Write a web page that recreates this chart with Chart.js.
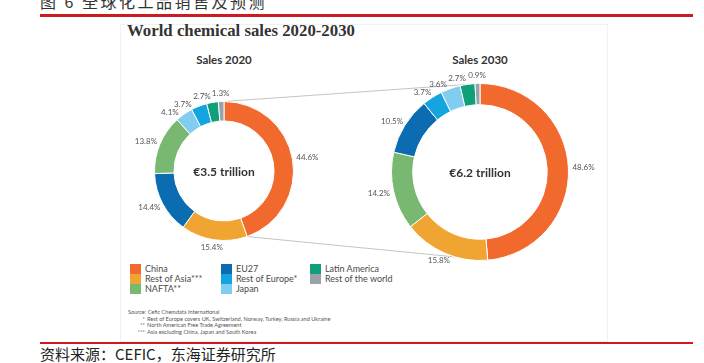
<!DOCTYPE html>
<html>
<head>
<meta charset="utf-8">
<script src="https://cdn.jsdelivr.net/npm/chart.js@4.4.0/dist/chart.umd.min.js"></script>
<style>
  body { margin: 0; width: 704px; height: 363px; overflow: hidden; background: #fff; position: relative; font-family: Lato, sans-serif; }
  .abs { position: absolute; }
  #header { left: 40px; top: -11px; font: 16px "Noto Sans CJK SC"; color: #333; letter-spacing: 2.5px; white-space: nowrap; }
  .redline { left: 40px; width: 653px; background: #cc1a21; }
  #card { left: 120px; top: 24px; width: 488px; height: 318px; border: 1px solid #f1f1f1; box-sizing: border-box; background: #fff; }
  #title { left: 127px; top: 21px; font: bold 16.8px "Liberation Serif"; color: #333; white-space: nowrap; }
  .sales { width: 120px; text-align: center; font: bold 11.5px Lato; color: #333; top: 53px; line-height: 14px; }
  #overlay { left: 0; top: 0; z-index: 1; }
  .donut { z-index: 2; }
  #legend { left: 130px; top: 264px; display: flex; font: 9px Lato; color: #4a4a4a; }
  .lcol { display: flex; flex-direction: column; }
  .litem { display: flex; align-items: center; height: 10px; line-height: 10px; white-space: nowrap; }
  .lsw { width: 11px; height: 10px; margin-right: 4px; }
  #sources { left: 128px; top: 309px; font: 5.6px Lato; color: #555; line-height: 6.5px; white-space: nowrap; }
  .star { display: inline-block; width: 17px; text-align: right; margin-right: 2px; }
  #footer { left: 40px; top: 345px; font: 15px "Noto Sans CJK SC"; color: #222; white-space: nowrap; line-height: 18px; }
</style>
</head>
<body>
<div id="header" class="abs">图 6 全球化工品销售及预测</div>
<div class="abs redline" style="top:14px;height:3px;"></div>
<div id="card" class="abs"></div>
<div id="title" class="abs">World chemical sales 2020-2030</div>
<div class="abs sales" style="left:164px;">Sales 2020</div>
<div class="abs sales" style="left:420px;">Sales 2030</div>
<canvas id="overlay" class="abs" width="704" height="363"></canvas>
<div class="abs donut" style="left:104px;top:71px;width:240px;height:200px;"><canvas id="chart2020"></canvas></div>
<div class="abs donut" style="left:349px;top:62px;width:262px;height:220px;"><canvas id="chart2030"></canvas></div>
<div id="legend" class="abs"></div>
<div id="sources" class="abs"></div>
<div class="abs redline" style="top:342px;height:2px;"></div>
<div id="footer" class="abs">资料来源：CEFIC，东海证券研究所</div>

<script>
// shares of world chemical sales, % (each ring is sorted largest first)
const regions2020 = ['China', 'Rest of Asia', 'EU27', 'NAFTA', 'Japan', 'Rest of Europe', 'Latin America', 'Rest of the world'];
const share2020 = [44.6, 15.4, 14.4, 13.8, 4.1, 3.7, 2.7, 1.3];
const regions2030 = ['China', 'Rest of Asia', 'NAFTA', 'EU27', 'Rest of Europe', 'Japan', 'Latin America', 'Rest of the world'];
const share2030 = [48.6, 15.8, 14.2, 10.5, 3.7, 3.6, 2.7, 0.9];
const totalTrillion2020 = 3.5;
const totalTrillion2030 = 6.2;

// legend columns and the footnote marks
const legendColumns = [
  ['China', 'Rest of Asia', 'NAFTA'],
  ['EU27', 'Rest of Europe', 'Japan'],
  ['Latin America', 'Rest of the world']
];
const legendMarks = { 'Rest of Asia': '***', 'NAFTA': '**', 'Rest of Europe': '*' };
const sourceLines = [
  ['', 'Source: Cefic Chemdata International'],
  ['*', 'Rest of Europe covers UK, Switzerland, Norway, Turkey, Russia and Ukraine'],
  ['**', 'North American Free Trade Agreement'],
  ['***', 'Asia excluding China, Japan and South Korea']
];

const regionColors = {
  'China': '#f2692e',
  'Rest of Asia': '#f0a532',
  'NAFTA': '#78b870',
  'EU27': '#0b6cb2',
  'Rest of Europe': '#14a4df',
  'Japan': '#80cdf0',
  'Latin America': '#0f9f79',
  'Rest of the world': '#9aa1a8'
};

// percent labels just outside the ring, nudged anticlockwise if they collide
const pctLabels = {
  id: 'pctLabels',
  afterDatasetsDraw(chart) {
    const ctx = chart.ctx;
    const arcs = chart.getDatasetMeta(0).data;
    const vals = chart.data.datasets[0].data;
    ctx.save();
    ctx.font = '8px Lato';
    ctx.fillStyle = '#555';
    ctx.textAlign = 'center';
    ctx.textBaseline = 'middle';
    const placed = [];
    const boxAt = (arc, a, w, h) => {
      const dx = Math.cos(a), dy = Math.sin(a);
      const px = arc.x + dx * (arc.outerRadius + 4);
      const py = arc.y + dy * (arc.outerRadius + 4);
      const cx = px + dx * w / 2, cy = py + dy * h / 2;
      return { cx, cy, x0: cx - w / 2, x1: cx + w / 2, y0: cy - h / 2, y1: cy + h / 2 };
    };
    const hits = b => placed.some(p => b.x0 < p.x1 + 1 && b.x1 > p.x0 - 1 && b.y0 < p.y1 && b.y1 > p.y0);
    for (let i = arcs.length - 1; i >= 0; i--) {
      const arc = arcs[i];
      const text = vals[i].toFixed(1) + '%';
      const w = ctx.measureText(text).width, h = 8;
      let a = (arc.startAngle + arc.endAngle) / 2;
      let b = boxAt(arc, a, w, h);
      let n = 0;
      while (hits(b) && n < 40) { a -= Math.PI / 180; b = boxAt(arc, a, w, h); n++; }
      placed.push(b);
      ctx.fillText(text, b.cx, b.cy);
    }
    ctx.restore();
  }
};

const centerText = {
  id: 'centerText',
  afterDatasetsDraw(chart, args, opts) {
    const arc = chart.getDatasetMeta(0).data[0];
    const ctx = chart.ctx;
    ctx.save();
    ctx.font = 'bold 12px Lato';
    ctx.fillStyle = '#333';
    ctx.textAlign = 'center';
    ctx.textBaseline = 'middle';
    ctx.fillText(opts.text, arc.x, arc.y + 1);
    ctx.restore();
  }
};

function makeDonut(id, labels, values, total, cutout, padding) {
  return new Chart(document.getElementById(id), {
    type: 'doughnut',
    data: {
      labels: labels,
      datasets: [{
        data: values,
        backgroundColor: labels.map(l => regionColors[l]),
        borderColor: '#ffffff',
        borderWidth: 1
      }]
    },
    options: {
      responsive: true,
      maintainAspectRatio: false,
      animation: false,
      events: [],
      cutout: cutout,
      layout: { padding: padding },
      plugins: {
        legend: { display: false },
        tooltip: { enabled: false },
        centerText: { text: '€' + total.toFixed(1) + ' trillion' }
      }
    },
    plugins: [pctLabels, centerText]
  });
}

const chart2020 = makeDonut('chart2020', regions2020, share2020, totalTrillion2020, '72%', { left: 50, right: 50, top: 30, bottom: 30 });
const chart2030 = makeDonut('chart2030', regions2030, share2030, totalTrillion2030, '76%', { left: 42, right: 42, top: 21, bottom: 21 });

// thin grey lines joining the China slice of both rings
function edgePoint(chart, angle) {
  const arc = chart.getDatasetMeta(0).data[0];
  const r = chart.canvas.getBoundingClientRect();
  return [r.left + arc.x + Math.cos(angle) * arc.outerRadius, r.top + arc.y + Math.sin(angle) * arc.outerRadius];
}
const oc = document.getElementById('overlay').getContext('2d');
const a1 = chart2020.getDatasetMeta(0).data[0];
const a2 = chart2030.getDatasetMeta(0).data[0];
oc.strokeStyle = '#c4c4c4';
oc.lineWidth = 1;
['startAngle', 'endAngle'].forEach(k => {
  const p = edgePoint(chart2020, a1[k]);
  const q = edgePoint(chart2030, a2[k]);
  oc.beginPath();
  oc.moveTo(p[0], p[1]);
  oc.lineTo(q[0], q[1]);
  oc.stroke();
});

// legend
const legend = document.getElementById('legend');
const colWidths = [91, 89, 100];
legendColumns.forEach((col, ci) => {
  const c = document.createElement('div');
  c.className = 'lcol';
  c.style.width = colWidths[ci] + 'px';
  col.forEach(name => {
    const item = document.createElement('div');
    item.className = 'litem';
    item.innerHTML = '<span class="lsw" style="background:' + regionColors[name] + '"></span>' + name + (legendMarks[name] || '');
    c.appendChild(item);
  });
  legend.appendChild(c);
});

// footnotes
const sources = document.getElementById('sources');
sources.innerHTML = sourceLines.map(([mark, text], i) =>
  i === 0 ? '<div>' + text + '</div>' : '<div><span class="star">' + mark + '</span>' + text + '</div>'
).join('');
</script>
</body>
</html>
